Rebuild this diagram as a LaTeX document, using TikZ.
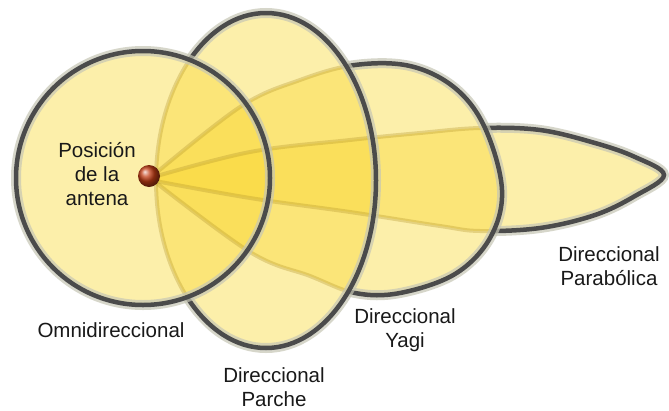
\documentclass[tikz,border=0pt]{standalone}
\usepackage{fontspec}
\setmainfont{Liberation Sans}
\usetikzlibrary{positioning}
\definecolor{lobeyellow}{HTML}{FAD935}
\definecolor{edgegray}{HTML}{4B4B4B}
\definecolor{glowgray}{HTML}{C6C6B4}
\definecolor{faintolive}{HTML}{B89A30}
\definecolor{antred}{HTML}{C23E16}

\newcommand{\omnishape}{(143,178) circle[radius=127pt]}
\newcommand{\parcheshape}{(266,180.5) ellipse[x radius=110pt, y radius=167.5pt]}
\newcommand{\yagishape}{plot[smooth, tension=0.6] coordinates {(150,178) (240,107) (300,80) (355,65) (410,66) (455,88) (485,128) (502,190) (490,238) (455,274) (400,293) (355,293) (310,276) (250,252) (150,178)} -- cycle}
\newcommand{\parabolashape}{plot[smooth, tension=0.6] coordinates {(150,178) (250,152) (350,140) (420,133) (480,128) (540,130) (595,143) (635,157) (664,175) (635,196) (595,215) (540,228) (480,231) (440,226) (350,212) (250,198) (150,180)} -- cycle}

\begin{document}
\begin{tikzpicture}[x=1pt, y=-1pt,
    lobeFill/.style={fill=lobeyellow, fill opacity=0.42},
    lobeFaint/.style={draw=faintolive, draw opacity=0.35, line width=4pt},
    lobeGlow/.style={draw=glowgray, draw opacity=0.7, line width=10pt},
    lobeEdge/.style={draw=edgegray, line width=4.5pt},
    lobeLabel/.style={font=\fontsize{20.5}{24}\selectfont, text=black!90, align=center, inner sep=0pt}
]
    \fill[white] (0,0) rectangle (669,410);
    \useasboundingbox (0,0) rectangle (669,410);

    % fills, narrowest lobe first
    \fill[lobeFill] \parabolashape;
    \fill[lobeFill] \yagishape;
    \fill[lobeFill] \parcheshape;
    \fill[lobeFill] \omnishape;

    % edges seen through the fills
    \draw[lobeFaint] \parabolashape;
    \draw[lobeFaint] \yagishape;
    \draw[lobeFaint] \parcheshape;

    % edges in front
    \begin{scope}[even odd rule]
        \clip (0,0) rectangle (669,410) \yagishape;
        \clip (0,0) rectangle (669,410) \parcheshape;
        \clip (0,0) rectangle (669,410) \omnishape;
        \draw[lobeGlow] \parabolashape;
        \draw[lobeEdge] \parabolashape;
    \end{scope}
    \begin{scope}[even odd rule]
        \clip (0,0) rectangle (669,410) \parcheshape;
        \clip (0,0) rectangle (669,410) \omnishape;
        \draw[lobeGlow] \yagishape;
        \draw[lobeEdge] \yagishape;
    \end{scope}
    \begin{scope}[even odd rule]
        \clip (0,0) rectangle (669,410) \omnishape;
        \draw[lobeGlow] \parcheshape;
        \draw[lobeEdge] \parcheshape;
    \end{scope}
    \draw[lobeGlow] \omnishape;
    \draw[lobeEdge] \omnishape;

    \node[circle, minimum size=22pt, inner sep=0pt, ball color=antred] (antena) at (149,176) {};

    \node[lobeLabel] (posicion) at (97,174) {Posición\\de la\\antena};
    \node[lobeLabel] (omni) at (111,330) {Omnidireccional};
    \node[lobeLabel] (parche) at (274,387) {Direccional\\Parche};
    \node[lobeLabel] (yagi) at (405,330) {Direccional\\Yagi};
    \node[lobeLabel] (parabolica) at (609,266) {Direccional\\Parabólica};
\end{tikzpicture}
\end{document}
